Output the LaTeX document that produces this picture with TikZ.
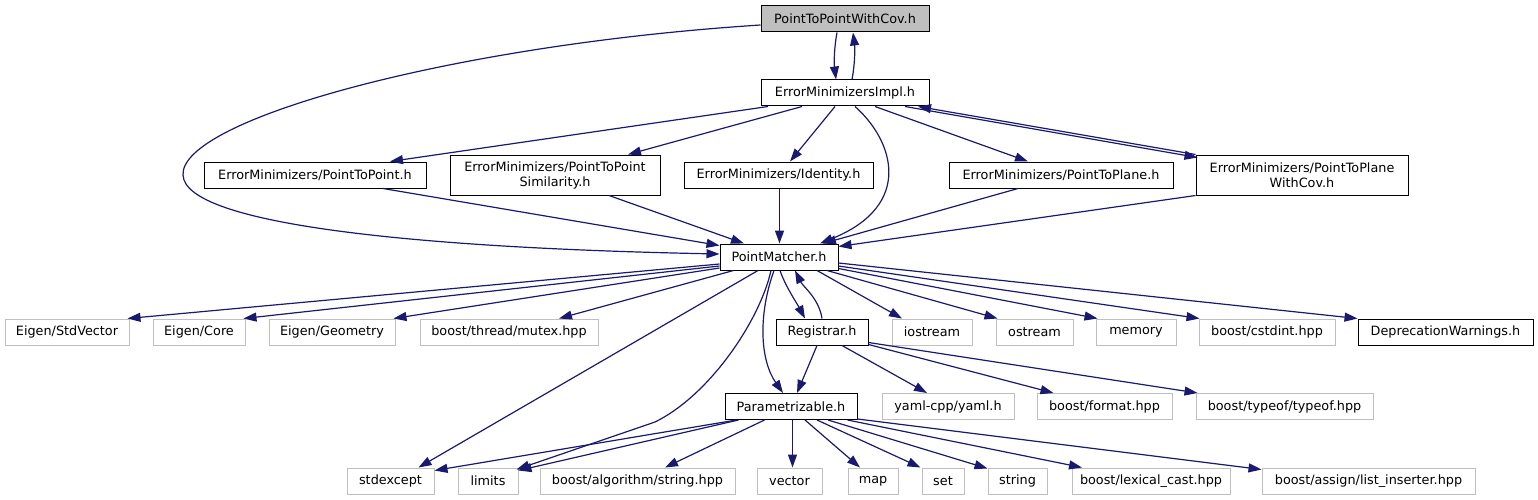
\documentclass[tikz,border=0pt]{standalone}
\usepackage{fontspec}
\setmainfont{DejaVu Sans}
\usetikzlibrary{arrows.meta}
\definecolor{eblue}{HTML}{191970}
\definecolor{lgray}{HTML}{BFBFBF}
\begin{document}
\begin{tikzpicture}[x=1pt,y=-1pt,
  every node/.style={font=\fontsize{12.8}{15}\selectfont, inner sep=0pt, align=center},
  blk/.style={draw=black, line width=1pt, fill=white, minimum height=26pt},
  blk2/.style={blk, minimum height=40pt},
  topbox/.style={blk, fill=lgray},
  gry/.style={draw=lgray, line width=1pt, fill=white, minimum height=26pt},
  e/.style={draw=eblue, line width=1.2pt, -{Triangle[length=13pt,width=9pt]}},
]
\path[use as bounding box] (0,0) rectangle (1538,500);

% nodes
\node[topbox, minimum width=168pt] (top) at (845,19) {PointToPointWithCov.h};
\node[blk, minimum width=168pt] (impl) at (845,93) {ErrorMinimizersImpl.h};
\node[blk, minimum width=222pt] (p2p) at (315,175) {ErrorMinimizers/PointToPoint.h};
\node[blk2, minimum width=210pt] (sim) at (555,175) {ErrorMinimizers/PointToPoint\\Similarity.h};
\node[blk, minimum width=189pt] (ident) at (778.5,175) {ErrorMinimizers/Identity.h};
\node[blk, minimum width=224pt] (plane) at (1061,175) {ErrorMinimizers/PointToPlane.h};
\node[blk2, minimum width=212pt] (planecov) at (1302,175) {ErrorMinimizers/PointToPlane\\WithCov.h};
\node[blk, minimum width=118pt] (pm) at (779,257) {PointMatcher.h};

\node[gry, minimum width=124pt] (stdvec) at (67,332) {Eigen/StdVector};
\node[gry, minimum width=92pt] (core) at (199,332) {Eigen/Core};
\node[gry, minimum width=126pt] (geom) at (332,332) {Eigen/Geometry};
\node[gry, minimum width=178pt] (mutex) at (509,332) {boost/thread/mutex.hpp};
\node[blk, minimum width=92pt] (reg) at (822,332) {Registrar.h};
\node[gry, minimum width=80pt] (iostream) at (932,332) {iostream};
\node[gry, minimum width=77pt] (ostream) at (1034.5,332) {ostream};
\node[gry, minimum width=80pt] (memory) at (1136,332) {memory};
\node[gry, minimum width=136pt] (cstdint) at (1267,332) {boost/cstdint.hpp};
\node[blk, minimum width=175pt] (deprec) at (1445.5,332) {DeprecationWarnings.h};

\node[blk, minimum width=132pt] (param) at (791,406.5) {Parametrizable.h};
\node[gry, minimum width=132pt] (yaml) at (948,406.5) {yaml-cpp/yaml.h};
\node[gry, minimum width=135pt] (format) at (1104.5,406.5) {boost/format.hpp};
\node[gry, minimum width=177pt] (typeof) at (1284.5,406.5) {boost/typeof/typeof.hpp};

\node[gry, minimum width=87pt] (stdexcept) at (390.5,481) {stdexcept};
\node[gry, minimum width=60pt] (limits) at (488,481) {limits};
\node[gry, minimum width=195pt] (algstr) at (637.5,481) {boost/algorithm/string.hpp};
\node[gry, minimum width=65pt] (vector) at (789.5,481) {vector};
\node[gry, minimum width=50pt] (map) at (873,481) {map};
\node[gry, minimum width=42pt] (set) at (943,481) {set};
\node[gry, minimum width=59pt] (string) at (1017.5,481) {string};
\node[gry, minimum width=158pt] (lexical) at (1151,481) {boost/lexical\_cast.hpp};
\node[gry, minimum width=213pt] (list) at (1368.5,481) {boost/assign/list\_inserter.hpp};

% edges
\draw[e] ([xshift=-8]top.south) .. controls +(-3,16) and +(-2,-16) .. ([xshift=-9]impl.north);
\draw[e] ([xshift=7]impl.north) .. controls +(3,-16) and +(2,16) .. ([xshift=8]top.south);
\draw[e] ([shift={(0,6)}]top.west) .. controls (450,45) and (180,120) .. (183,175)
  .. controls (185,225) and (420,248) .. ([shift={(0,-3)}]pm.west);

\draw[e] ([xshift=-77]impl.south) -- ([xshift=75]p2p.north);
\draw[e] ([xshift=-43]impl.south) -- ([xshift=73]sim.north);
\draw[e] ([xshift=-10]impl.south) -- ([xshift=11.5]ident.north);
\draw[e] ([xshift=10]impl.south) .. controls (893,140) and (915,205) .. ([xshift=41]pm.north);
\draw[e] ([xshift=30]impl.south) -- ([xshift=-33]plane.north);
\draw[e] ([xshift=60]impl.south) -- ([shift={(2,3)}]planecov.north west);
\draw[e] (planecov.north west) -- ([xshift=73]impl.south);

\draw[e] ([xshift=68]p2p.south) -- ([shift={(0,2)}]pm.north west);
\draw[e] ([xshift=54]sim.south) -- ([xshift=-35]pm.north);
\draw[e] ([xshift=1]ident.south) -- ([xshift=0.5]pm.north);
\draw[e] ([xshift=-43]plane.south) -- ([xshift=44]pm.north);
\draw[e] (planecov.south west) -- ([shift={(0,3)}]pm.north east);

\draw[e] ([shift={(0,7)}]pm.west) -- ([xshift=-2]stdvec.north east);
\draw[e] ([shift={(0,9)}]pm.west) -- ([xshift=-2]core.north east);
\draw[e] ([shift={(0,11)}]pm.west) -- ([xshift=-2]geom.north east);
\draw[e] ([xshift=14]pm.south west) -- ([xshift=50]mutex.north);
\draw[e] ([xshift=-21]pm.south) -- ([xshift=28]stdexcept.north);
\draw[e] ([xshift=-8]pm.south) .. controls (760,320) and (710,395) .. (655,422) -- ([shift={(-2,2)}]limits.north east);
\draw[e] ([xshift=-5]pm.south) .. controls (758,315) and (760,360) .. ([xshift=-8]param.north);
\draw[e] ([xshift=1]pm.south) .. controls +(5,15) and +(-8,-15) .. ([xshift=-17]reg.north);
\draw[e] (reg.north) .. controls +(-3,-20) and +(8,16) .. ([xshift=16]pm.south);
\draw[e] ([xshift=38]pm.south) -- ([xshift=-30]iostream.north);
\draw[e] ([xshift=48]pm.south) -- ([xshift=2]ostream.north west);
\draw[e] ([shift={(0,-2)}]pm.south east) -- ([xshift=2]memory.north west);
\draw[e] ([shift={(0,9)}]pm.east) -- ([xshift=1]cstdint.north west);
\draw[e] ([shift={(0,6)}]pm.east) -- (deprec.north west);

\draw[e] ([xshift=-5]reg.south) -- ([xshift=6]param.north);
\draw[e] ([xshift=20]reg.south) -- ([xshift=-21]yaml.north);
\draw[e] ([shift={(0,-1)}]reg.south east) -- ([xshift=-51]format.north);
\draw[e] ([shift={(0,-3)}]reg.south east) -- ([xshift=2]typeof.north west);

\draw[e] ([xshift=12]param.south west) -- ([shift={(0,3)}]stdexcept.north east);
\draw[e] ([xshift=14]param.south west) -- ([shift={(0,3)}]limits.north east);
\draw[e] ([xshift=40]param.south west) -- ([xshift=27.5]algstr.north);
\draw[e] ([xshift=1.5]param.south) -- ([xshift=3]vector.north);
\draw[e] ([xshift=14]param.south) -- ([xshift=-13]map.north);
\draw[e] ([xshift=26]param.south) -- ([xshift=-1]set.north west);
\draw[e] ([xshift=37]param.south) -- ([shift={(0,1)}]string.north west);
\draw[e] ([xshift=-10]param.south east) -- ([xshift=-69]lexical.north);
\draw[e] ([shift={(0,-1)}]param.south east) -- ([shift={(0,2)}]list.north west);
\end{tikzpicture}
\end{document}
